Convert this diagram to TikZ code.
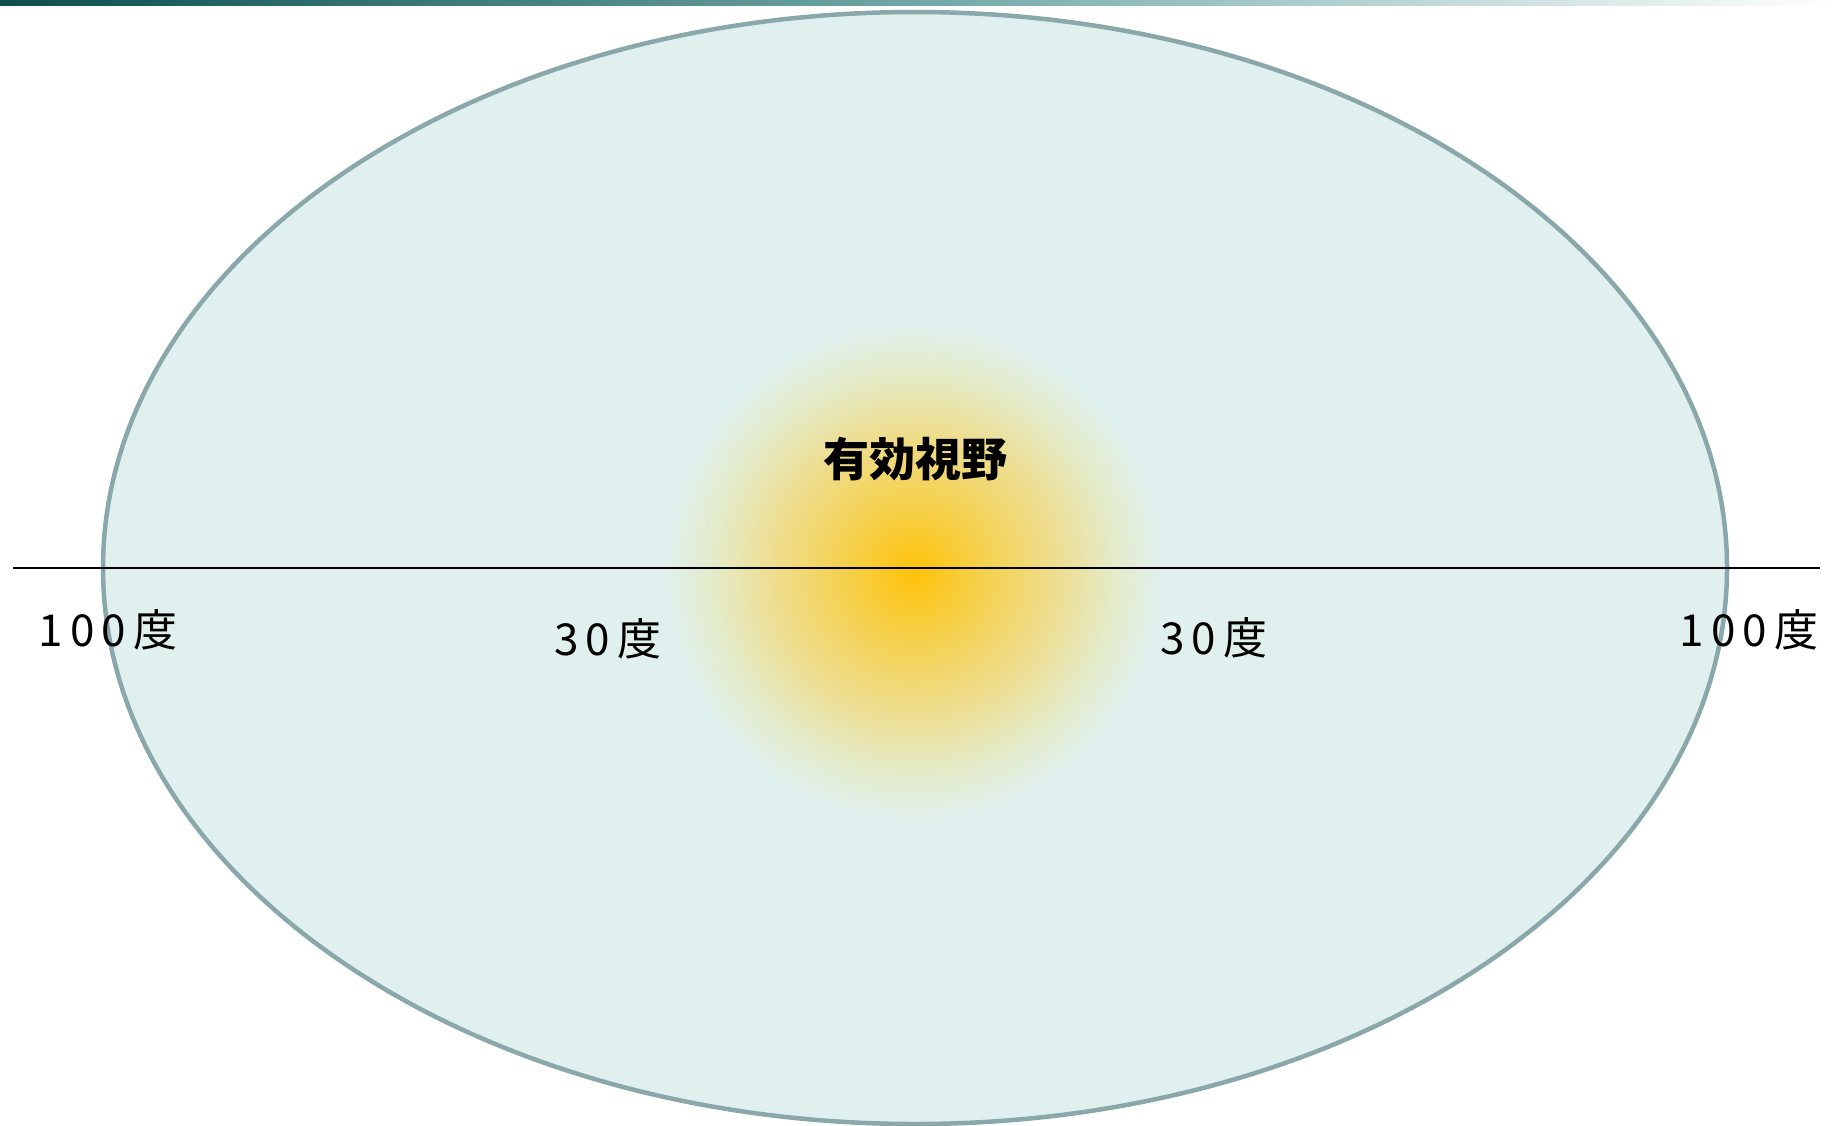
\documentclass[tikz,border=0pt]{standalone}
\usepackage{fontspec}
\newfontfamily\cjk{Noto Sans CJK JP}
\newfontfamily\cjkwide[LetterSpace=16]{Noto Sans CJK JP}
\usetikzlibrary{shadings}
\definecolor{fieldfill}{HTML}{E0F0EF}
\definecolor{fieldedge}{HTML}{8AA7A9}
\definecolor{barleft}{HTML}{0D4D4D}
\definecolor{barmid}{HTML}{6FA8A6}
\definecolor{glowA}{HTML}{FFC208}
\definecolor{glowB}{HTML}{F6CF45}
\definecolor{glowC}{HTML}{EEDD8E}
\definecolor{glowD}{HTML}{E4EBC8}
\pgfdeclareradialshading{glow}{\pgfpoint{0bp}{0bp}}{color(0bp)=(glowA); color(6bp)=(glowB); color(14bp)=(glowC); color(20bp)=(glowD); color(25bp)=(fieldfill); color(50bp)=(fieldfill)}
\tikzset{
  deglabel/.style={font=\cjkwide\fontsize{44}{48}\selectfont, inner sep=0pt, text=black},
  titlelabel/.style={font=\cjk\bfseries\fontsize{46}{50}\selectfont, inner sep=0pt, text=black},
}
\begin{document}
\begin{tikzpicture}[x=1pt,y=-1pt]
\useasboundingbox (0,0) rectangle (1833,1125);
% top bar
\shade[left color=barleft, right color=white, middle color=barmid] (0,0) rectangle (1833,5);
% field ellipse
\coordinate (ctr) at (915,568);
\filldraw[fill=fieldfill, draw=fieldedge, line width=4.5pt] (ctr) ellipse [x radius=812, y radius=556];
% glow
\shade[shading=glow] (914,572) circle [radius=250];
% horizontal axis
\coordinate (axL) at (13,568);
\coordinate (axR) at (1820,568);
\draw[line width=2.4pt, black] (axL) -- (axR);
% labels
\node[titlelabel] (title) at (915,459) {有効視野};
\node[deglabel] (l100) at (108,630) {100度};
\node[deglabel] (r100) at (1749,630) {100度};
\node[deglabel] (l30) at (608,639) {30度};
\node[deglabel] (r30) at (1214,638) {30度};
\end{tikzpicture}
\end{document}
